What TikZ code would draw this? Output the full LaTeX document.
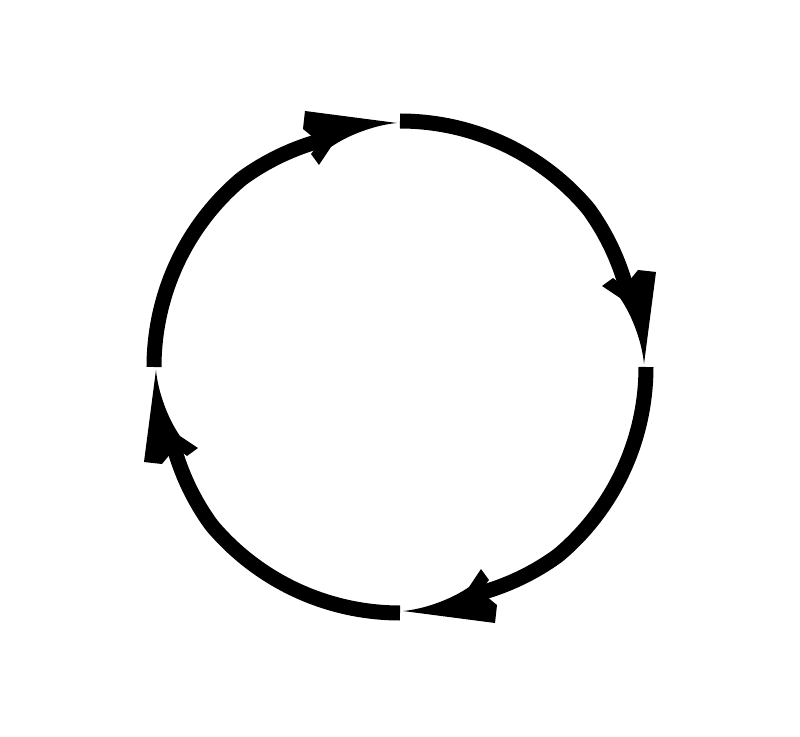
\documentclass[tikz,border=0pt]{standalone}
\begin{document}
\begin{tikzpicture}[x=1pt,y=1pt]
\tikzset{ring/.style={line width=15pt, line cap=butt, draw=black},
         headfill/.style={fill=black}}
\useasboundingbox (-400,-369) rectangle (400,367);
\foreach \a in {0,-90,-180,-270}{
  \begin{scope}[rotate=\a]
    \draw[ring] plot[domain=90:18, samples=90, variable=\t] ({\t}:{246-max(0,40-\t)*0.3});
    \fill[headfill] (213,89) -- (202,81) -- (220,69)
      .. controls (232,52) and (242,25) .. (244,3)
      -- (256,95) -- (238,97) -- (229,86) -- (226,79) -- cycle;
  \end{scope}
}
\end{tikzpicture}
\end{document}
